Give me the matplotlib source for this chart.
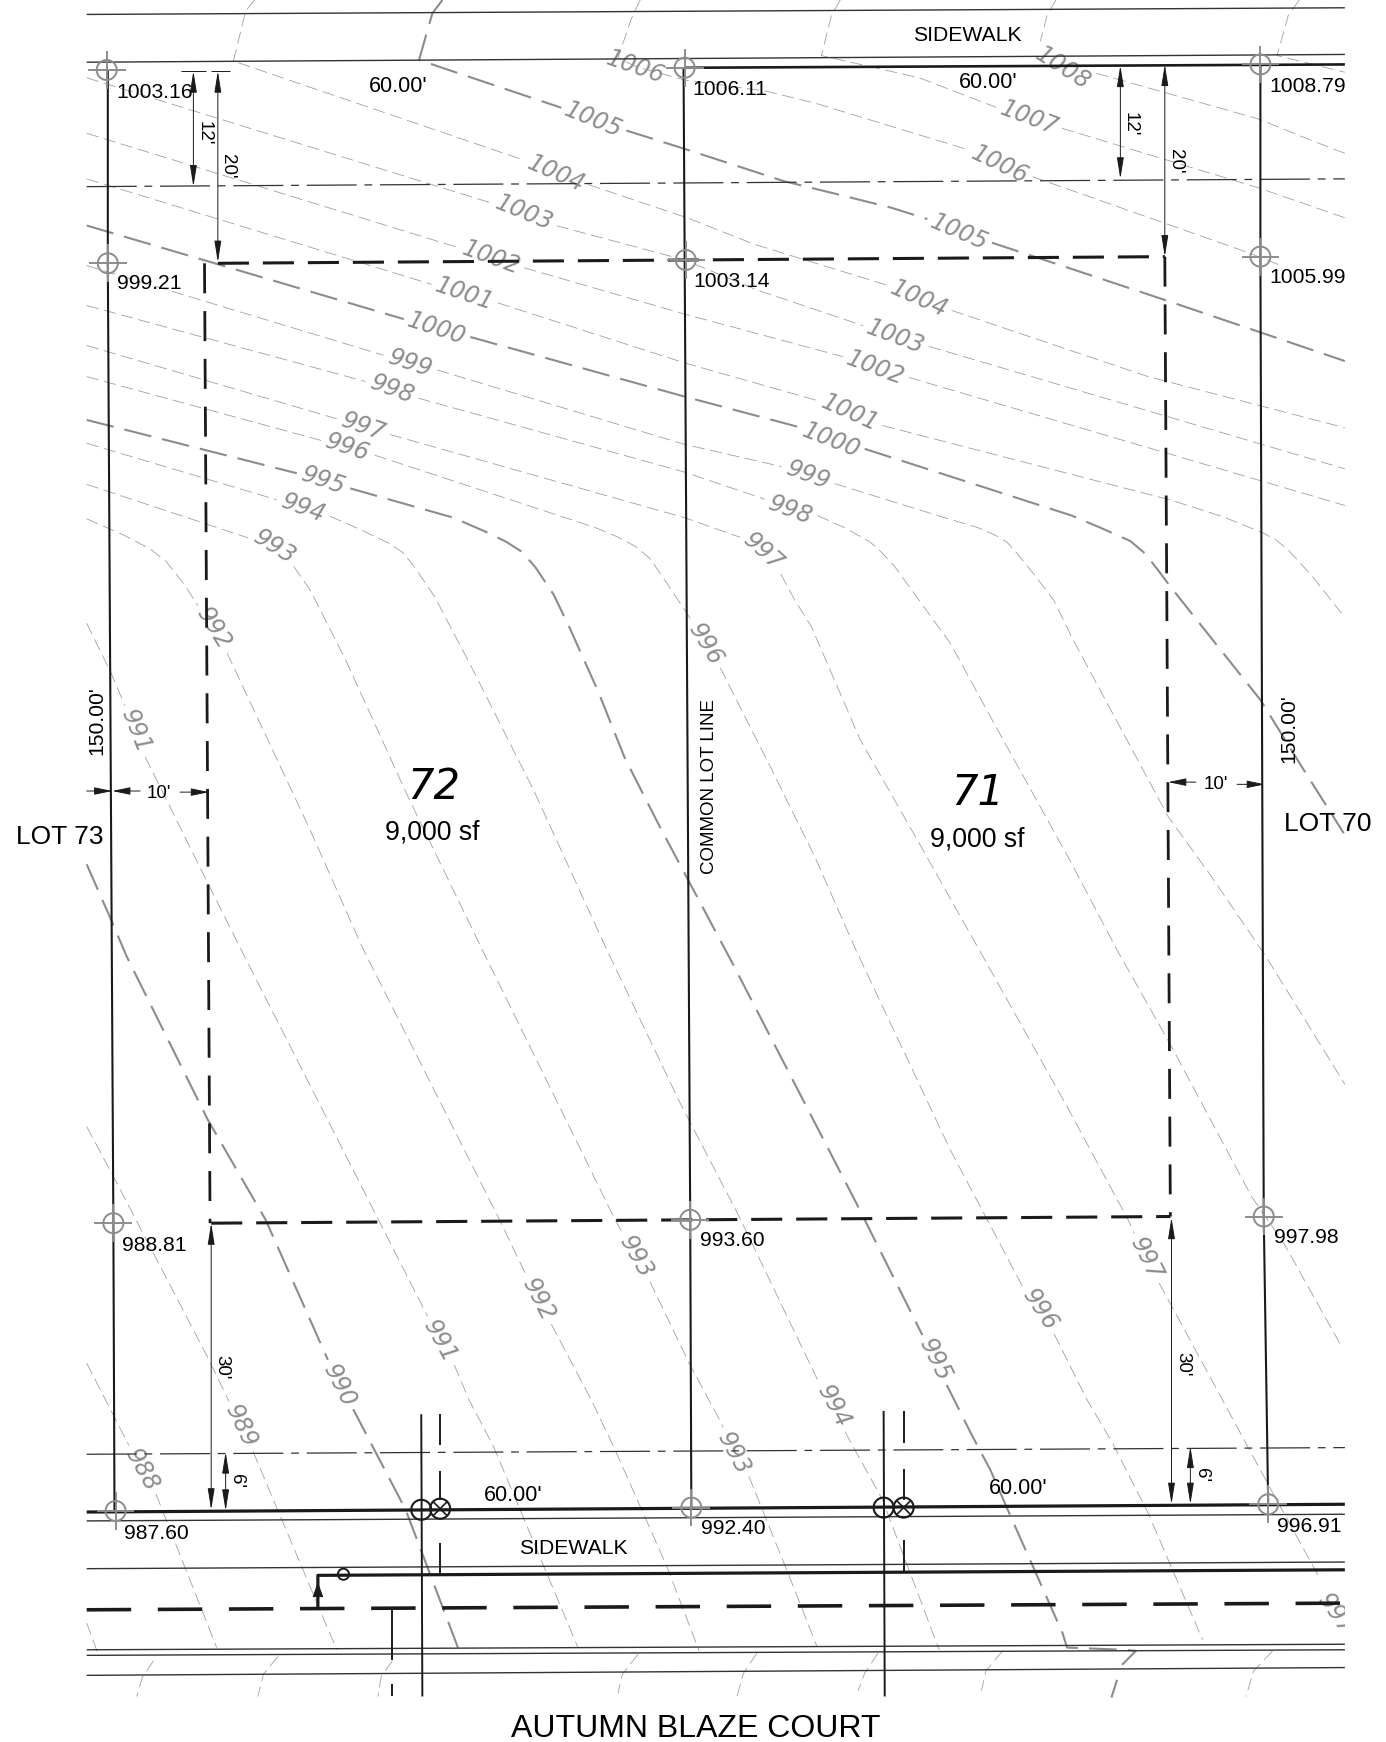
import numpy as np
import matplotlib
matplotlib.use("Agg")
import matplotlib.pyplot as plt
from matplotlib.patches import Circle
from matplotlib.transforms import Bbox, TransformedBbox

plt.rcParams['lines.scale_dashes'] = False
plt.rcParams['font.family'] = ['Liberation Sans', 'DejaVu Sans']

# sheet units: 1 unit = 0.8 pt at the saved size
PT = 0.8
BLACK = '#1a1a1a'
GREY = '#8c8c8c'
LIGHT = '#a0a0a0'

# --- contours: (x, y) on the sheet, y going down ---
c1009 = [(1169, 0), (1159, 14), (1149, 50), (1210, 65)]
c1008 = [(950, 0), (942, 14), (934, 45), (956, 61), (983, 65), (1132, 107), (1179, 126), (1210, 138)]
c1007 = [(756, 0), (748, 14), (739, 50), (827, 70), (926, 108), (954, 115), (1132, 169), (1210, 196)]
c1006 = [(576, 0), (568, 17), (556, 52), (572, 60), (616, 72), (689, 82), (734, 93), (875, 136),
         (900, 148), (926, 158), (1122, 227), (1150, 238)]
c1005 = [(398, 0), (389, 12), (377, 54), (508, 98), (534, 108), (562, 117), (616, 134), (705, 163),
         (750, 174), (802, 187), (837, 198), (863, 209), (891, 218), (964, 242), (1057, 273), (1210, 325)]
c1004 = [(229, 0), (221, 10), (210, 55), (474, 145), (500, 157), (526, 165), (618, 196), (679, 220),
         (796, 256), (827, 270), (855, 279), (1033, 339), (1210, 385)]
c1003 = [(78, 70), (472, 192), (500, 203), (616, 234), (681, 261), (806, 303), (1210, 422)]
c1002 = [(78, 120), (442, 232), (468, 240), (617, 283), (762, 322), (788, 331), (1210, 455)]
c1001 = [(78, 161), (418, 265), (446, 272), (617, 327), (737, 361), (765, 372), (790, 382),
         (1053, 450), (1100, 465), (1137, 480), (1148, 486), (1159, 495), (1180, 518), (1207, 552)]
c1000 = [(78, 203), (393, 296), (422, 303), (616, 357), (721, 385), (748, 397), (778, 404),
         (964, 464), (990, 475), (1017, 487), (1030, 498), (1041, 512), (1053, 528), (1134, 630),
         (1173, 693), (1209, 750)]
c999 = [(78, 239), (369, 327), (390, 332), (616, 400), (699, 419), (727, 428), (750, 435), (850, 466),
        (880, 475), (896, 482), (906, 488), (914, 497), (928, 514), (948, 540), (965, 575), (1001, 642),
        (1051, 735), (1090, 789), (1139, 861), (1210, 976)]
c998 = [(78, 275), (353, 350), (375, 358), (616, 425), (693, 451), (711, 459), (733, 463), (760, 475),
        (783, 488), (793, 497), (805, 510), (818, 528), (855, 579), (896, 654), (964, 777), (1005, 855),
        (1054, 942), (1126, 1077), (1155, 1119), (1207, 1212)]
c997 = [(78, 311), (327, 384), (347, 390), (616, 466), (650, 478), (667, 484), (687, 497), (701, 514),
        (715, 540), (730, 564), (774, 666), (827, 759), (881, 855), (960, 996), (1015, 1098), (1031, 1133),
        (1043, 1155), (1102, 1264), (1142, 1338), (1187, 1420)]
c996 = [(78, 339), (313, 403), (335, 409), (536, 475), (555, 483), (572, 492), (585, 503), (600, 525),
        (618, 552), (635, 580), (649, 603), (693, 690), (733, 771), (770, 855), (855, 1035), (920, 1158),
        (936, 1179), (948, 1200), (978, 1260), (1001, 1299), (1033, 1362), (1082, 1476)]
c995 = [(78, 378), (271, 427), (291, 433), (313, 439), (408, 466), (440, 480), (456, 488), (470, 497),
        (482, 511), (498, 535), (512, 564), (538, 622), (562, 682), (592, 741), (618, 790), (659, 867),
        (772, 1086), (831, 1204), (841, 1224), (851, 1245), (875, 1293), (891, 1323), (908, 1362),
        (956, 1470), (960, 1483), (1011, 1485), (1022, 1486), (1007, 1501)]
c995_end = [(1005, 1512), (1000, 1528)]
c994 = [(78, 399), (273, 457), (293, 463), (325, 477), (350, 489), (362, 497), (372, 509), (391, 537),
        (424, 600), (480, 711), (546, 855), (612, 993), (665, 1095), (737, 1245), (750, 1266), (762, 1292),
        (794, 1350), (845, 1485)]
c993 = [(78, 436), (247, 492), (263, 508), (279, 531), (311, 594), (367, 717), (434, 855), (552, 1095),
        (572, 1132), (584, 1152), (620, 1227), (649, 1281), (660, 1308), (673, 1327), (709, 1416), (735, 1482)]
c992 = [(78, 467), (110, 481), (135, 494), (150, 506), (165, 525), (180, 548), (192, 566), (203, 585),
        (279, 747), (327, 855), (448, 1095), (484, 1170), (496, 1192), (532, 1260), (552, 1302),
        (600, 1410), (629, 1486)]
c991 = [(78, 561), (100, 606), (122, 658), (130, 680), (187, 795), (217, 855), (339, 1095), (396, 1207),
        (408, 1227), (422, 1260), (444, 1302), (520, 1483)]
c990 = [(78, 778), (100, 828), (114, 861), (187, 1008), (239, 1098), (295, 1224), (305, 1247),
        (317, 1267), (365, 1359), (412, 1483)]
c989 = [(78, 1014), (102, 1059), (187, 1222), (217, 1284), (227, 1305), (303, 1485)]
c988 = [(78, 1227), (118, 1305), (128, 1323), (140, 1344), (195, 1483)]
c987 = [(78, 1461), (88, 1488)]

# curved pieces south of the road
south_pieces = [
    [(138, 1495), (128, 1510), (123, 1527)],
    [(250, 1491), (237, 1507), (232, 1527)],
    [(353, 1495), (343, 1509), (340, 1527)],
    [(574, 1489), (560, 1507), (556, 1524)],
    [(681, 1488), (669, 1506), (663, 1527)],
    [(790, 1488), (778, 1506), (772, 1522)],
    [(902, 1486), (887, 1504), (883, 1522)],
    [(1145, 1486), (1128, 1504), (1121, 1527)],
]

minor_contours = [c1009, c1008, c1007, c1006, c1004, c1003, c1002, c1001, c999, c998, c997, c996,
                  c994, c993, c992, c991, c989, c988, c987] + south_pieces
major_contours = [c1005, c1000, c995, c995_end, c990]

# label text, centre x, centre y, contour it sits on
contour_labels = [
    ('1008', 956, 61, c1008), ('1007', 926, 106, c1007), ('1006', 900, 148, c1006),
    ('1005', 534, 108, c1005), ('1005', 863, 209, c1005),
    ('1004', 500, 156, c1004), ('1004', 827, 269, c1004),
    ('1003', 472, 192, c1003), ('1003', 806, 303, c1003),
    ('1002', 442, 232, c1002), ('1002', 788, 331, c1002),
    ('1001', 418, 265, c1001), ('1001', 765, 372, c1001),
    ('1000', 393, 296, c1000), ('1000', 748, 396, c1000),
    ('999', 369, 327, c999), ('999', 727, 428, c999),
    ('998', 353, 350, c998), ('998', 711, 459, c998),
    ('997', 327, 384, c997), ('997', 687, 497, c997), ('997', 1031, 1133, c997),
    ('996', 313, 403, c996), ('996', 635, 580, c996), ('996', 936, 1179, c996),
    ('995', 291, 433, c995), ('995', 841, 1224, c995),
    ('994', 273, 457, c994), ('994', 750, 1266, c994),
    ('993', 247, 492, c993), ('993', 572, 1132, c993), ('993', 660, 1308, c993),
    ('992', 192, 566, c992), ('992', 484, 1170, c992),
    ('991', 122, 658, c991), ('991', 396, 1207, c991),
    ('990', 305, 1247, c990),
    ('989', 217, 1284, c989),
    ('988', 128, 1323, c988),
]

# --- lot lines and road lines ---
road_lines = [
    [(78, 13), (1210, 7)],
    [(78, 56), (1210, 49)],
    [(78, 1369), (1210, 1363)],
    [(78, 1412), (1210, 1406)],
    [(78, 1485), (1210, 1480)],
    [(78, 1490), (1210, 1485)],
    [(78, 1508), (1210, 1501)],
]
setback_lines = [[(78, 168), (1210, 161)], [(78, 1309), (1210, 1303)]]
heavy_lines = [
    [(78, 1361), (1210, 1354)],
    [(286, 1448), (286, 1418), (1210, 1413)],
]
top_lot_line = [(616, 61), (1210, 58)]
centre_line = [(78, 1449), (1210, 1443)]
lot_lines = [
    [(97, 63), (97, 237), (102, 1101), (103, 1360)],
    [(615, 61), (616, 234), (621, 1098), (622, 1357)],
    [(1134, 58), (1134, 231), (1137, 1095), (1141, 1354)],
]
envelope_h = [[(196, 237), (1048, 231)], [(190, 1101), (1053, 1095)]]
envelope_v = [[(184, 237), (189, 1101)], [(1048, 231), (1053, 1095)]]

pipe_lines = [
    [(379, 1273), (380, 1527)], [(795, 1270), (796, 1527)],
    [(396, 1273), (396, 1301)], [(396, 1324), (396, 1350)], [(396, 1389), (396, 1417)],
    [(813, 1270), (813, 1299)], [(813, 1322), (813, 1350)], [(813, 1386), (813, 1414)],
    [(353, 1447), (353, 1494)], [(353, 1516), (353, 1527)],
]
valve_plain = [(379, 1359), (795, 1357)]
valve_cross = [(396, 1358), (813, 1357)]
stop_box = (309, 1417)
feed_arrow = [(286, 1441), (286, 1424)]

# survey points and their spot grades
grade_pts = [(96, 63), (97, 237), (102, 1101), (104, 1360),
             (616, 61), (617, 234), (621, 1098), (622, 1357),
             (1134, 58), (1134, 231), (1137, 1095), (1141, 1354)]
grade_txt = ['1003.16', '999.21', '988.81', '987.60',
             '1006.11', '1003.14', '993.60', '992.40',
             '1008.79', '1005.99', '997.98', '996.91']
grade_txt_pos = [(105, 83), (105, 255), (110, 1121), (112, 1380),
                 (623, 81), (624, 253), (630, 1117), (631, 1376),
                 (1142, 78), (1142, 250), (1146, 1114), (1149, 1374)]

# dimension arrows
dim_double = [
    [(174, 64), (174, 168)], [(196, 64), (196, 236)],
    [(1008, 59), (1008, 161)], [(1048, 58), (1048, 231)],
    [(190, 1101), (190, 1359)], [(203, 1307), (203, 1360)],
    [(1054, 1096), (1054, 1354)], [(1071, 1302), (1071, 1354)],
]
dim_ticks = [[(163, 64), (185, 64)], [(190, 64), (207, 64)]]
dim_short = [
    [(78, 712), (101, 712)], [(126, 712), (101, 712)], [(162, 713), (188, 713)],
    [(1076, 704), (1051, 704)], [(1113, 706), (1138, 706)],
]
dim_text = [("12'", 184, 120), ("20'", 205, 150), ("12'", 1017, 112), ("20'", 1058, 145),
            ("30'", 200, 1231), ("6'", 213, 1333), ("30'", 1064, 1228), ("6'", 1081, 1328)]
plan_text = [("60.00'", 358, 78), ("60.00'", 889, 74), ("60.00'", 462, 1346), ("60.00'", 916, 1340)]


def circle_hits(p, q, centre, r):
    """Parameters along p-q where the segment crosses the circle."""
    d = q - p
    f = p - centre
    a, b, k = d @ d, 2 * d @ f, f @ f - r * r
    disc = b * b - 4 * a * k
    if disc <= 0:
        return []
    return [t for t in ((-b - np.sqrt(disc)) / (2 * a), (-b + np.sqrt(disc)) / (2 * a)) if 0 < t < 1]


def gapped(pts, holes):
    # break a polyline wherever it runs inside a label circle
    out = [np.array(pts[0], float)]
    for p, q in zip(pts[:-1], pts[1:]):
        p, q = np.array(p, float), np.array(q, float)
        params = [0.0, 1.0]
        for cx, cy, r in holes:
            params += circle_hits(p, q, np.array([cx, cy], float), r)
        params = sorted(params)
        for t0, t1 in zip(params[:-1], params[1:]):
            mid = p + (t0 + t1) / 2 * (q - p)
            inside = any(np.hypot(mid[0] - cx, mid[1] - cy) < r for cx, cy, r in holes)
            out.append(np.array([np.nan, np.nan]) if inside else p + t1 * (q - p))
            if inside:
                out.append(p + t1 * (q - p))
    return np.array(out)


def chord_angle(pts, cx, cy, r):
    hits = []
    for p, q in zip(pts[:-1], pts[1:]):
        p, q = np.array(p, float), np.array(q, float)
        hits += [p + t * (q - p) for t in circle_hits(p, q, np.array([cx, cy], float), r)]
    a, b = (hits[0], hits[-1]) if len(hits) > 1 else (np.array(pts[0]), np.array(pts[-1]))
    ang = -np.degrees(np.arctan2(b[1] - a[1], b[0] - a[0]))
    if abs(ang) < 30:
        ang -= 3  # the lettering sits a touch steeper than the line up here
    return ang


def seg(ax, pts, color=BLACK, lw=1.4, dashes=None, zorder=3):
    xy = np.array(pts, float)
    line, = ax.plot(xy[:, 0], xy[:, 1], color=color, lw=lw, zorder=zorder,
                    solid_capstyle='butt', dash_capstyle='butt')
    if dashes is not None:
        line.set_dashes([d * PT for d in dashes])
    return line


def arrow(ax, start, end, style='-|>', head=13.0, half=2.1):
    ax.annotate('', xy=end, xytext=start, zorder=4,
                arrowprops=dict(arrowstyle=f'{style},head_length={head},head_width={half}',
                                color=BLACK, lw=0.7, shrinkA=0, shrinkB=0, mutation_scale=1))


def contour_text(ax, x, y, t, ang):
    return ax.text(x, y, t, color=GREY, fontsize=17, family='DejaVu Sans', style='oblique',
                   rotation=ang, rotation_mode='anchor', ha='center', va='center', zorder=2)


fig = plt.figure(figsize=(13.86, 17.42), dpi=100)
ax = fig.add_axes([0, 0, 1, 1])
ax.set_xlim(0, 1247)
ax.set_ylim(1568, 0)
ax.axis('off')

# contour lines, broken at their labels
label_radius = {4: 31, 3: 25}
for contour in minor_contours + major_contours:
    holes = [(x, y, label_radius[len(t)]) for t, x, y, c in contour_labels if c is contour]
    xy = gapped(contour, holes)
    if any(contour is m for m in major_contours):
        seg(ax, xy, color=GREY, lw=1.5, dashes=(25, 10), zorder=1)
    else:
        seg(ax, xy, color=LIGHT, lw=0.6, dashes=(11, 5), zorder=1)

for t, x, y, c in contour_labels:
    contour_text(ax, x, y, t, chord_angle(c, x, y, label_radius[len(t)]))

# these two do not sit on a cut: one hugs the curb, one runs off the sheet
contour_text(ax, 572, 60, '1006', -19)
clipped = contour_text(ax, 1202, 1453, '997', -55)
clipped.set_clip_box(TransformedBbox(Bbox([[0, 0], [1210, 1568]]), ax.transData))
clipped.set_clip_on(True)

# road and lot geometry
for pts in road_lines:
    seg(ax, pts, color='#333333', lw=1.0)
for pts in setback_lines:
    seg(ax, pts, color='#333333', lw=0.9, dashes=(45, 7, 7, 7))
for pts in heavy_lines:
    seg(ax, pts, lw=2.3)
seg(ax, top_lot_line, lw=1.9)
seg(ax, centre_line, lw=2.6, dashes=(40, 24))
for pts in lot_lines:
    seg(ax, pts, lw=1.5)
for pts in envelope_h:
    seg(ax, pts, lw=2.2, dashes=(28, 12.5))
for pts in envelope_v:
    seg(ax, pts, lw=2.0, dashes=(27, 16))

# utility lines and valves
for pts in pipe_lines:
    seg(ax, pts, lw=1.4)
for x, y in valve_plain + valve_cross:
    ax.add_patch(Circle((x, y), 9, fill=False, ec=BLACK, lw=1.5, zorder=5))
for x, y in valve_cross:
    seg(ax, [(x - 6, y - 6), (x + 6, y + 6)], lw=1.2, zorder=5)
    seg(ax, [(x - 6, y + 6), (x + 6, y - 6)], lw=1.2, zorder=5)
ax.add_patch(Circle(stop_box, 5, fill=False, ec=BLACK, lw=1.4, zorder=5))
arrow(ax, feed_arrow[0], feed_arrow[1], head=9.5, half=3.4)

# grey survey crosshairs
for x, y in grade_pts:
    ax.add_patch(Circle((x, y), 9, fill=False, ec=GREY, lw=1.4, zorder=6))
    seg(ax, [(x - 17, y), (x + 17, y)], color=GREY, lw=1.4, zorder=6)
    seg(ax, [(x, y - 17), (x, y + 17)], color=GREY, lw=1.4, zorder=6)
for t, (x, y) in zip(grade_txt, grade_txt_pos):
    ax.text(x, y, t, fontsize=15.2, color='black', ha='left', va='center', zorder=7)

# dimensions
for a, b in dim_double:
    arrow(ax, a, b, style='<|-|>')
for pts in dim_ticks:
    seg(ax, pts, lw=0.7)
for a, b in dim_short:
    arrow(ax, a, b, head=11.0, half=2.3)
for t, x, y in dim_text:
    ax.text(x, y, t, fontsize=13.5, rotation=270, ha='center', va='center', zorder=7)
ax.text(143, 714, "10'", fontsize=13.5, ha='center', va='center', zorder=7)
ax.text(1094, 706, "10'", fontsize=13.5, ha='center', va='center', zorder=7)
for t, x, y in plan_text:
    ax.text(x, y, t, fontsize=15.5, ha='center', va='center', zorder=7)

ax.text(870, 32, 'SIDEWALK', fontsize=15.2, ha='center', va='center', zorder=7)
ax.text(516, 1394, 'SIDEWALK', fontsize=15.2, ha='center', va='center', zorder=7)
ax.text(87, 649, "150.00'", fontsize=15.2, rotation=90, ha='center', va='center', zorder=7)
ax.text(1160, 656, "150.00'", fontsize=15.2, rotation=90, ha='center', va='center', zorder=7)
ax.text(54, 753, 'LOT 73', fontsize=19, ha='center', va='center', zorder=7)
ax.text(1195, 742, 'LOT 70', fontsize=19, ha='center', va='center', zorder=7)
ax.text(390, 708, '72', fontsize=30, family='DejaVu Sans', style='oblique', ha='center', va='center', zorder=7)
ax.text(880, 714, '71', fontsize=30, family='DejaVu Sans', style='oblique', ha='center', va='center', zorder=7)
ax.text(389, 749, '9,000 sf', fontsize=19.2, ha='center', va='center', zorder=7)
ax.text(879, 756, '9,000 sf', fontsize=19.2, ha='center', va='center', zorder=7)
ax.text(638, 708, 'COMMON LOT LINE', fontsize=13.5, rotation=90, ha='center', va='center', zorder=7)
ax.text(626, 1556, 'AUTUMN BLAZE COURT', fontsize=23, ha='center', va='center', zorder=7)

fig.savefig('out.png', dpi=100, facecolor='white')
